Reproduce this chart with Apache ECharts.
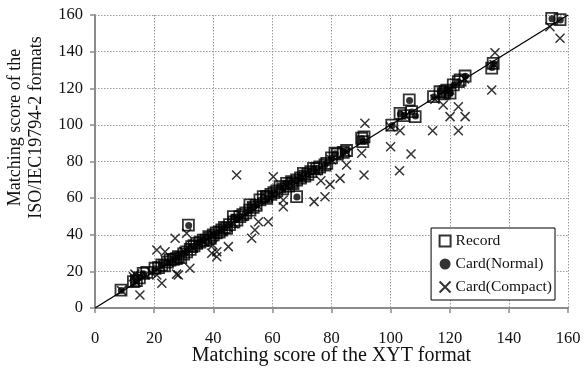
<!DOCTYPE html>
<html><head><meta charset="utf-8">
<script src="https://cdn.jsdelivr.net/npm/echarts@6/dist/echarts.min.js"></script>
<style>html,body{margin:0;padding:0;background:#fff}#c{width:587px;height:371px}</style>
</head><body><div id="c"></div>
<script>
var xTicks = [0,20,40,60,80,100,120,140,160];
var yTicks = [0,20,40,60,80,100,120,140,160];
var seriesNames = ['Record','Card(Normal)','Card(Compact)'];
var identityLine = [[0,0],[160,160]];
var record = [[8.8,9.8],[13,14.4],[14,15],[15,16.5],[16.3,18.9],[17.5,19.5],[20.3,21.7],[21.5,22],[22.6,23.5],[23.5,23],[24.5,25],[25.4,26.2],[26.5,26.5],[27.5,27],[28.2,28],[29,27.5],[30,29.5],[31,30.7],[31.6,45.3],[32.2,32],[32.7,33.5],[33.5,34],[34.4,35.3],[35.5,36],[36.6,37.1],[37.5,37],[38.5,39],[39,38],[40,39.9],[41,41],[42,41.5],[42.9,42.6],[43.8,44],[44.5,43.5],[45.5,45.5],[46.8,49.9],[47,47],[48,48],[49,49.9],[50,51],[51,52],[52.4,53.5],[52.4,56.3],[53.5,55],[54.5,56],[55.8,59],[56.9,60.8],[58.1,59.9],[58,61],[59.5,62],[60.5,63],[61.5,64],[62.6,66.2],[63.5,65],[64.8,68.1],[65.5,66.5],[66.5,69],[67,68],[68.2,69.9],[68.2,60.8],[69.5,71],[70.5,73.5],[71,72],[72,73],[73,74.5],[73.9,76.3],[75,76],[76,77],[77.8,78.1],[78.4,79],[80,82],[81.2,84.5],[82,84],[84,85],[85.1,86],[90.2,92.7],[90.6,90.8],[91,93.5],[100.4,99.9],[103.2,106.3],[104.5,105],[106.3,113.6],[107.1,107.2],[108.3,104.5],[114.5,115.4],[116.7,118.1],[117.8,117],[118.4,118.1],[119,119],[120.1,117.3],[121.2,121.8],[122.9,123.6],[123.5,124.5],[125.2,126.7],[134.2,131],[134.7,133.6],[154.5,158.2],[157.3,157.5]];
var normal = [[8.9,9.6],[13.1,14.2],[14.2,15.3],[15.2,16.8],[16.4,18.7],[20.4,21.5],[22.5,23.2],[24.4,24.8],[25.5,26],[27.4,27.2],[28.3,27.8],[30.1,29.8],[31.1,31],[31.7,45.1],[32.6,33.2],[34.3,35],[35.6,36.2],[36.7,37],[38.4,38.8],[40.1,40],[41.1,40.8],[42.8,42.4],[43.9,43.8],[45.4,45.6],[46.9,49.6],[47.9,48.2],[49.1,50],[50.8,51.8],[52.5,53.3],[52.5,56],[53.6,55.2],[54.6,56.2],[55.9,58.8],[57,60.6],[58.2,60],[59.6,61.8],[60.6,63.1],[62.5,66],[63.6,65.2],[64.9,67.8],[66.4,68.8],[68.1,69.6],[68.3,60.6],[69.6,70.8],[70.6,73.2],[72.1,73.2],[73.8,76],[75.1,76.2],[77.7,78],[78.5,79.2],[80.1,81.8],[81.3,84.2],[84.1,85.2],[85.2,86.2],[90.3,92.4],[90.7,91],[100.5,99.7],[103.3,106],[104.6,105.2],[106.4,113.3],[107.2,107],[108.4,104.8],[114.6,115.2],[116.8,118],[118.5,118.2],[119.1,118.8],[120.2,117.5],[121.3,121.6],[123,123.4],[125.3,126.5],[134.3,131.3],[134.8,133.4],[154.6,157.9],[157.4,157.3]];
var compact = [[15.2,7.1],[13,17.1],[13.5,18.5],[20.9,31.7],[23.7,30.7],[22.6,13.5],[20.9,18],[28.2,18],[27.6,18.5],[27.1,38.1],[31,40.8],[32.1,21.7],[39.5,29.9],[41.2,30.7],[41.2,28],[45.1,33.5],[39.9,34.4],[53,38.1],[54.1,42.6],[55.3,47.1],[58.6,47.1],[47.9,72.6],[60.3,71.7],[63.7,55.3],[63.7,59],[74.1,58.1],[77.8,60.8],[79.5,67.5],[76.4,69.5],[82.9,70.8],[85.1,78.1],[90.2,84.5],[91,72.6],[91.3,100.9],[100,88.1],[103,75],[106.9,84.1],[103.2,96.8],[114.2,96.8],[122.9,96.8],[117.8,110.9],[122.9,109.9],[120.1,104.5],[125.2,104.5],[134.2,119],[135.3,139.4],[153.9,153.6],[157.3,147.3],[9,9.5],[14,14],[17,18],[19,19.5],[25,25],[28,27],[30,31],[33,33],[35,35],[37,36],[40,40],[43,42],[45,44],[47,46],[50,50],[55,56],[60,62],[65,66],[70,71],[75,75],[80,81],[85,85],[100,99],[105,105],[115,114],[120,119],[125,125],[135,133]];

var FONT = '"Liberation Serif", "Times New Roman", serif';
var crossPath = 'path://M0,0L10,10M10,0L0,10';
var chart = echarts.init(document.getElementById('c'), null, {renderer:'canvas'});
function axisCommon(ticks){
  return {
    type:'value', min:ticks[0], max:ticks[ticks.length-1], interval:ticks[1]-ticks[0],
    nameMoveOverlap:false,
    axisLine:{show:true,onZero:false,lineStyle:{color:'#8c8c8c',width:2}},
    axisTick:{show:true,inside:false,length:5,lineStyle:{color:'#8c8c8c',width:1.5}},
    splitLine:{show:true,lineStyle:{color:'#9a9a9a',type:[1.5,1.5],width:1}},
    axisLabel:{color:'#111',fontFamily:FONT,fontSize:16.5},
    nameTextStyle:{color:'#111',fontFamily:FONT,fontSize:18,lineHeight:21}
  };
}
var xAxis = axisCommon(xTicks);
xAxis.name = 'Matching score of the XYT format';
xAxis.nameLocation = 'middle';
xAxis.nameGap = 37;
xAxis.nameTextStyle.fontSize = 20;
xAxis.axisLabel.margin = 22;
var yAxis = axisCommon(yTicks);
yAxis.name = 'Matching score of the\nISO/IEC19794-2 formats';
yAxis.nameLocation = 'middle';
yAxis.nameGap = 48;
yAxis.nameTextStyle.padding = [0,0,0,68];
yAxis.axisLabel.margin = 12;

chart.setOption({
  animation:false,
  backgroundColor:'#fff',
  grid:{left:95,right:19,top:15,bottom:63,containLabel:false,outerBoundsMode:'none'},
  xAxis:xAxis, yAxis:yAxis,
  legend:{
    orient:'vertical', right:32, top:228,
    data:seriesNames,
    backgroundColor:'#fff', borderColor:'#000', borderWidth:1, borderRadius:0,
    padding:[5,3,5,6], itemGap:7, itemWidth:11, itemHeight:11,
    textStyle:{color:'#111',fontFamily:FONT,fontSize:15.5}
  },
  series:[
    {type:'line', data:identityLine, symbol:'none', silent:true, lineStyle:{color:'#000',width:1.3}, z:1},
    {name:seriesNames[0], type:'scatter', data:record, symbol:'rect', symbolSize:11,
     itemStyle:{color:'rgba(255,255,255,0)', borderColor:'#000', borderWidth:1.8}, z:2},
    {name:seriesNames[1], type:'scatter', data:normal, symbol:'circle', symbolSize:7,
     itemStyle:{color:'#000'}, z:3},
    {name:seriesNames[2], type:'scatter', data:compact, symbol:crossPath, symbolSize:9,
     itemStyle:{color:'none', borderColor:'#000', borderWidth:1.5}, z:4}
  ]
});
</script></body></html>
